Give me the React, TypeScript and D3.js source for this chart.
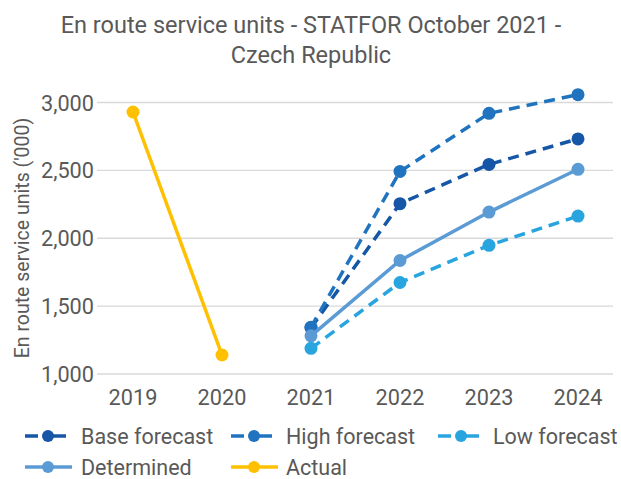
import React from "react";
import * as d3 from "d3";

const years = ["2019", "2020", "2021", "2022", "2023", "2024"];
const yTicks = [1000, 1500, 2000, 2500, 3000];

const baseForecast = [null, null, 1340, 2255, 2544, 2732];
const highForecast = [null, null, 1345, 2492, 2920, 3058];
const lowForecast = [null, null, 1189, 1674, 1948, 2163];
const determined = [null, null, 1281, 1836, 2193, 2508];
const actual = [2930, 1140, null, null, null, null];

const seriesNames = ["Base forecast", "High forecast", "Low forecast", "Determined", "Actual"];
const seriesColors = ["#1656a6", "#1f73bf", "#28a5df", "#5b9bd5", "#ffc000"];
const seriesDashed = [true, true, true, false, false];
const seriesValues = [baseForecast, highForecast, lowForecast, determined, actual];

const W = 621;
const H = 479;
const font = "Roboto, 'Noto Sans', sans-serif";
const textColor = "#595959";

export default function App() {
  const x = d3.scalePoint<string>().domain(years).range([133, 578]);
  const y = d3.scaleLinear().domain([1000, 3000]).range([374, 102.5]);

  const line = d3
    .line<{ yr: string; v: number | null }>()
    .defined((d) => d.v !== null)
    .x((d) => x(d.yr) as number)
    .y((d) => y(d.v as number));

  const legendItems = [
    { i: 0, lx: 25, tx: 81, ly: 436 },
    { i: 1, lx: 231, tx: 286, ly: 436 },
    { i: 2, lx: 438, tx: 493, ly: 436 },
    { i: 3, lx: 25, tx: 81, ly: 467 },
    { i: 4, lx: 231, tx: 286, ly: 467 },
  ];

  return (
    <svg width={W} height={H} style={{ position: "absolute", left: 0, top: 0, background: "#fff" }}>
      <text x={311} y={33} textAnchor="middle" fontFamily={font} fontSize={23.5} fill={textColor}>
        En route service units - STATFOR October 2021 -
      </text>
      <text x={311} y={63} textAnchor="middle" fontFamily={font} fontSize={23.5} fill={textColor}>
        Czech Republic
      </text>
      {yTicks.map((t) => (
        <g key={t}>
          <line x1={97} x2={613} y1={y(t)} y2={y(t)} stroke="#d9d9d9" strokeWidth={1.3} />
          <text x={94} y={y(t) + 8} textAnchor="end" fontFamily={font} fontSize={21.7} fill={textColor}>
            {d3.format(",")(t)}
          </text>
        </g>
      ))}
      {years.map((yr) => (
        <text key={yr} x={x(yr)} y={405} textAnchor="middle" fontFamily={font} fontSize={21.7} fill={textColor}>
          {yr}
        </text>
      ))}
      <text
        transform={`translate(29,238) rotate(-90)`}
        textAnchor="middle"
        fontFamily={font}
        fontSize={19.5}
        fill={textColor}
      >
        En route service units ('000)
      </text>
      {seriesValues.map((vals, i) => {
        const data = years.map((yr, j) => ({ yr, v: vals[j] }));
        return (
          <g key={i}>
            <path
              d={line(data) || ""}
              fill="none"
              stroke={seriesColors[i]}
              strokeWidth={3.5}
              strokeDasharray={seriesDashed[i] ? "11,7" : undefined}
            />
            {data
              .filter((d) => d.v !== null)
              .map((d) => (
                <circle key={d.yr} cx={x(d.yr)} cy={y(d.v as number)} r={6.5} fill={seriesColors[i]} />
              ))}
          </g>
        );
      })}
      {legendItems.map(({ i, lx, tx, ly }) => {
        const w = seriesDashed[i] ? 41 : 47;
        return (
          <g key={i}>
            {seriesDashed[i] ? (
              <>
                <line x1={lx} x2={lx + 13} y1={ly} y2={ly} stroke={seriesColors[i]} strokeWidth={3.5} />
                <line x1={lx + 20} x2={lx + w} y1={ly} y2={ly} stroke={seriesColors[i]} strokeWidth={3.5} />
              </>
            ) : (
              <line x1={lx} x2={lx + w} y1={ly} y2={ly} stroke={seriesColors[i]} strokeWidth={3.5} />
            )}
            <circle cx={lx + 23} cy={ly} r={6} fill={seriesColors[i]} />
            <text x={tx} y={ly + 7.5} fontFamily={font} fontSize={21.5} fill={textColor}>
              {seriesNames[i]}
            </text>
          </g>
        );
      })}
    </svg>
  );
}
